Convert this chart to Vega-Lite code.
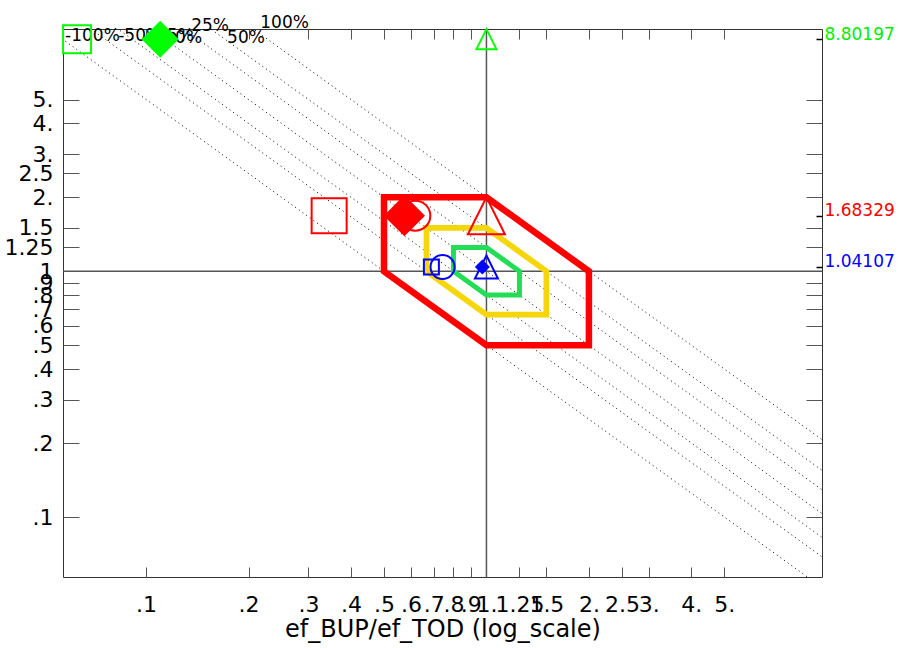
{
  "$schema": "https://vega.github.io/schema/vega-lite/v6.json",
  "width": 759,
  "height": 548,
  "autosize": "none",
  "padding": {"left": 63, "top": 29, "right": 78, "bottom": 71},
  "background": "#ffffff",
  "config": {
    "view": {"stroke": "#333333", "strokeWidth": 1},
    "font": "DejaVu Sans, sans-serif"
  },
  "resolve": {"axis": {"x": "independent", "y": "independent"}},
  "layer": [
    {
      "data": {"values": [
        {"c": 0.5, "x": 0.04, "y": 12.5}, {"c": 0.5, "x": 12, "y": 0.041667},
        {"c": 0.6667, "x": 0.04, "y": 16.667}, {"c": 0.6667, "x": 12, "y": 0.055556},
        {"c": 0.8, "x": 0.04, "y": 20}, {"c": 0.8, "x": 12, "y": 0.066667},
        {"c": 1, "x": 0.04, "y": 25}, {"c": 1, "x": 12, "y": 0.083333},
        {"c": 1.25, "x": 0.04, "y": 31.25}, {"c": 1.25, "x": 12, "y": 0.104167},
        {"c": 1.5, "x": 0.04, "y": 37.5}, {"c": 1.5, "x": 12, "y": 0.125},
        {"c": 2, "x": 0.04, "y": 50}, {"c": 2, "x": 12, "y": 0.166667}
      ]},
      "mark": {"type": "line", "clip": true, "color": "#000000", "strokeWidth": 1, "strokeDash": [1, 3.5]},
      "encoding": {
        "x": {"field": "x", "type": "quantitative",
          "scale": {"type": "log", "domain": [0.057, 9.68], "nice": false, "zero": false},
          "axis": {"orient": "bottom", "values": [0.1, 0.2, 0.3, 0.4, 0.5, 0.6, 0.7, 0.8, 0.9, 1, 1.25, 1.5, 2, 2.5, 3, 4, 5],
            "tickSize": -10, "tickColor": "#555555", "tickWidth": 1, "domain": false, "grid": false,
            "labelPadding": 27, "labelFontSize": 22, "labelColor": "#000000", "labelOverlap": false, "labelFlush": false, "labelBound": false,
            "labelExpr": "datum.value < 1 ? replace(format(datum.value, '.1f'), '0.', '.') : (datum.value == floor(datum.value) ? datum.value + '.' : '' + datum.value)",
            "title": "ef_BUP/ef_TOD (log_scale)", "titleFontSize": 24, "titleFontWeight": "normal", "titleColor": "#000000", "titlePadding": 2}},
        "y": {"field": "y", "type": "quantitative",
          "scale": {"type": "log", "domain": [0.057, 9.68], "nice": false, "zero": false},
          "axis": {"orient": "left", "values": [0.1, 0.2, 0.3, 0.4, 0.5, 0.6, 0.7, 0.8, 0.9, 1, 1.25, 1.5, 2, 2.5, 3, 4, 5],
            "tickSize": -16, "tickColor": "#555555", "tickWidth": 1, "domain": false, "grid": false,
            "labelPadding": 26, "labelFontSize": 22, "labelColor": "#000000", "labelOverlap": false, "labelFlush": false, "labelBound": false, "labelBaseline": "middle",
            "labelExpr": "datum.value < 1 ? replace(format(datum.value, '.1f'), '0.', '.') : datum.value == 1 ? '1' : (datum.value == floor(datum.value) ? datum.value + '.' : '' + datum.value)",
            "title": null}},
        "detail": {"field": "c", "type": "nominal"}
      }
    },
    {
      "data": {"values": [{"v": 1}]},
      "mark": {"type": "rule", "color": "#555555", "strokeWidth": 1.5},
      "encoding": {
        "x": {"field": "v", "type": "quantitative",
          "scale": {"type": "log", "domain": [0.057, 9.68], "nice": false, "zero": false},
          "axis": {"orient": "top", "values": [0.1, 0.2, 0.3, 0.4, 0.5, 0.6, 0.7, 0.8, 0.9, 1, 1.25, 1.5, 2, 2.5, 3, 4, 5],
            "tickSize": -10, "tickColor": "#555555", "tickWidth": 1, "domain": false, "grid": false, "labels": false, "title": null}}
      }
    },
    {
      "data": {"values": [{"v": 1}]},
      "mark": {"type": "rule", "color": "#555555", "strokeWidth": 1.5},
      "encoding": {
        "y": {"field": "v", "type": "quantitative",
          "scale": {"type": "log", "domain": [0.057, 9.68], "nice": false, "zero": false},
          "axis": {"orient": "right", "values": [0.1, 0.2, 0.3, 0.4, 0.5, 0.6, 0.7, 0.8, 0.9, 1, 1.25, 1.5, 2, 2.5, 3, 4, 5],
            "tickSize": -16, "tickColor": "#555555", "tickWidth": 1, "domain": false, "grid": false, "labels": false, "title": null}}
      }
    },
    {
      "data": {"values": [
        {"hex": "outer", "ord": 0, "x": 0.5, "y": 2}, {"hex": "outer", "ord": 1, "x": 1, "y": 2}, {"hex": "outer", "ord": 2, "x": 2, "y": 1},
        {"hex": "outer", "ord": 3, "x": 2, "y": 0.5}, {"hex": "outer", "ord": 4, "x": 1, "y": 0.5}, {"hex": "outer", "ord": 5, "x": 0.5, "y": 1},
        {"hex": "outer", "ord": 6, "x": 0.5, "y": 2},
        {"hex": "middle", "ord": 0, "x": 0.6667, "y": 1.5}, {"hex": "middle", "ord": 1, "x": 1, "y": 1.5}, {"hex": "middle", "ord": 2, "x": 1.5, "y": 1},
        {"hex": "middle", "ord": 3, "x": 1.5, "y": 0.6667}, {"hex": "middle", "ord": 4, "x": 1, "y": 0.6667}, {"hex": "middle", "ord": 5, "x": 0.6667, "y": 1},
        {"hex": "middle", "ord": 6, "x": 0.6667, "y": 1.5},
        {"hex": "inner", "ord": 0, "x": 0.8, "y": 1.25}, {"hex": "inner", "ord": 1, "x": 1, "y": 1.25}, {"hex": "inner", "ord": 2, "x": 1.25, "y": 1},
        {"hex": "inner", "ord": 3, "x": 1.25, "y": 0.8}, {"hex": "inner", "ord": 4, "x": 1, "y": 0.8}, {"hex": "inner", "ord": 5, "x": 0.8, "y": 1},
        {"hex": "inner", "ord": 6, "x": 0.8, "y": 1.25}
      ]},
      "mark": {"type": "line", "strokeJoin": "miter", "strokeCap": "square"},
      "encoding": {
        "x": {"field": "x", "type": "quantitative", "scale": {"type": "log", "domain": [0.057, 9.68], "nice": false, "zero": false}, "axis": null},
        "y": {"field": "y", "type": "quantitative", "scale": {"type": "log", "domain": [0.057, 9.68], "nice": false, "zero": false}, "axis": null},
        "order": {"field": "ord", "type": "quantitative"},
        "detail": {"field": "hex", "type": "nominal"},
        "stroke": {"field": "hex", "type": "nominal", "scale": {"domain": ["outer", "middle", "inner"], "range": ["#FF0000", "#F5D60A", "#22DD55"]}, "legend": null},
        "strokeWidth": {"field": "hex", "type": "nominal", "scale": {"domain": ["outer", "middle", "inner"], "range": [6.5, 5, 5]}, "legend": null}
      }
    },
    {
      "data": {"values": [
        {"label": "-100%", "x": 0.0578, "y": 9.1},
        {"label": "-50%", "x": 0.0828, "y": 9.1},
        {"label": "-25%", "x": 0.1027, "y": 9.1},
        {"label": "0%", "x": 0.1217, "y": 8.91},
        {"label": "25%", "x": 0.1357, "y": 10.0},
        {"label": "50%", "x": 0.173, "y": 8.9},
        {"label": "100%", "x": 0.2165, "y": 10.2}
      ]},
      "mark": {"type": "text", "align": "left", "baseline": "middle", "fontSize": 17, "color": "#000000"},
      "encoding": {
        "x": {"field": "x", "type": "quantitative", "scale": {"type": "log", "domain": [0.057, 9.68], "nice": false, "zero": false}, "axis": null},
        "y": {"field": "y", "type": "quantitative", "scale": {"type": "log", "domain": [0.057, 9.68], "nice": false, "zero": false}, "axis": null},
        "text": {"field": "label", "type": "nominal"}
      }
    },
    {
      "data": {"name": "pts", "values": [
        {"set": "top", "marker": "square", "x": 0.0627, "y": 8.80197, "s": 784},
        {"set": "top", "marker": "diamond", "x": 0.11, "y": 8.80197, "s": 1369},
        {"set": "top", "marker": "triangle", "x": 1.0, "y": 8.80197, "s": 400},
        {"set": "mid", "marker": "square", "x": 0.345, "y": 1.68329, "s": 1225},
        {"set": "mid", "marker": "diamond", "x": 0.574, "y": 1.68329, "s": 1700},
        {"set": "mid", "marker": "circle", "x": 0.618, "y": 1.68329, "s": 900},
        {"set": "mid", "marker": "triangle", "x": 1.0, "y": 1.68329, "s": 1369},
        {"set": "base", "marker": "square", "x": 0.689, "y": 1.04107, "s": 225},
        {"set": "base", "marker": "circle", "x": 0.743, "y": 1.04107, "s": 576},
        {"set": "base", "marker": "diamond", "x": 0.973, "y": 1.04107, "s": 225},
        {"set": "base", "marker": "triangle", "x": 1.0, "y": 1.04107, "s": 529}
      ]},
      "transform": [{"filter": "datum.marker != 'diamond'"}],
      "mark": {"type": "point", "filled": false, "strokeWidth": 2, "opacity": 1},
      "encoding": {
        "x": {"field": "x", "type": "quantitative", "scale": {"type": "log", "domain": [0.057, 9.68], "nice": false, "zero": false}, "axis": null},
        "y": {"field": "y", "type": "quantitative", "scale": {"type": "log", "domain": [0.057, 9.68], "nice": false, "zero": false}, "axis": null},
        "shape": {"field": "marker", "type": "nominal", "scale": {"domain": ["square", "diamond", "circle", "triangle"], "range": ["square", "diamond", "circle", "M0,-1L1,1L-1,1Z"]}, "legend": null},
        "color": {"field": "set", "type": "nominal", "scale": {"domain": ["top", "mid", "base"], "range": ["#00FF00", "#FF0000", "#0000FF"]}, "legend": null},
        "size": {"field": "s", "type": "quantitative", "scale": {"type": "linear", "domain": [0, 1700], "range": [0, 1700], "zero": true}, "legend": null}
      }
    },
    {
      "data": {"name": "pts"},
      "transform": [{"filter": "datum.marker == 'diamond'"}],
      "mark": {"type": "point", "filled": true, "opacity": 1},
      "encoding": {
        "x": {"field": "x", "type": "quantitative", "scale": {"type": "log", "domain": [0.057, 9.68], "nice": false, "zero": false}, "axis": null},
        "y": {"field": "y", "type": "quantitative", "scale": {"type": "log", "domain": [0.057, 9.68], "nice": false, "zero": false},
          "axis": {"orient": "right", "values": [8.80197, 1.68329, 1.04107], "tickSize": -6, "tickColor": "#000000", "tickWidth": 1.5,
            "domain": false, "grid": false, "labelPadding": 8, "labelFontSize": 17, "labelBaseline": "middle", "labelOffset": -5,
            "labelOverlap": false, "labelFlush": false, "labelBound": false,
            "labelExpr": "format(datum.value, '.5f')",
            "labelColor": {"expr": "datum.value > 5 ? '#00EE00' : (datum.value > 1.3 ? '#FF0000' : '#0000FF')"},
            "title": null}},
        "shape": {"field": "marker", "type": "nominal", "scale": {"domain": ["square", "diamond", "circle", "triangle"], "range": ["square", "diamond", "circle", "M0,-1L1,1L-1,1Z"]}, "legend": null},
        "color": {"field": "set", "type": "nominal", "scale": {"domain": ["top", "mid", "base"], "range": ["#00FF00", "#FF0000", "#0000FF"]}, "legend": null},
        "size": {"field": "s", "type": "quantitative", "scale": {"type": "linear", "domain": [0, 1700], "range": [0, 1700], "zero": true}, "legend": null}
      }
    }
  ]
}
